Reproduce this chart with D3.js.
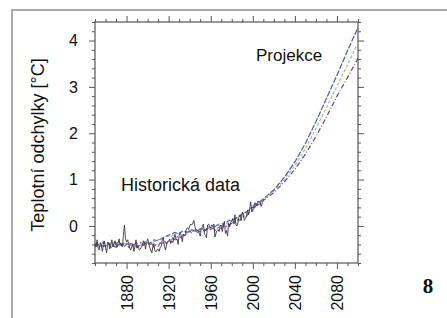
<!DOCTYPE html>
<html>
<head>
<meta charset="utf-8">
<script src="https://cdn.jsdelivr.net/npm/d3@7/dist/d3.min.js"></script>
<style>
  body { margin: 0; background: #fff; }
  text { font-family: "Liberation Sans", Arial, sans-serif; }
</style>
</head>
<body>
<div id="chart"></div>
<script>
// observed record, annual 1850-2010
var obsYears = d3.range(1850, 2011);
var obsValues = [
  -0.38,-0.45,-0.30,-0.48,-0.52,-0.36,-0.42,-0.55,-0.40,-0.33,
  -0.47,-0.58,-0.40,-0.35,-0.50,-0.42,-0.30,-0.44,-0.38,-0.32,
  -0.40,-0.46,-0.36,-0.28,-0.42,-0.38,-0.45,-0.20,0.02,-0.28,
  -0.35,-0.30,-0.38,-0.48,-0.52,-0.44,-0.40,-0.55,-0.42,-0.30,
  -0.48,-0.45,-0.52,-0.50,-0.46,-0.42,-0.32,-0.36,-0.50,-0.38,
  -0.28,-0.34,-0.46,-0.52,-0.58,-0.45,-0.38,-0.54,-0.56,-0.52,
  -0.50,-0.55,-0.46,-0.44,-0.30,-0.26,-0.44,-0.52,-0.40,-0.36,
  -0.34,-0.28,-0.38,-0.32,-0.36,-0.26,-0.18,-0.30,-0.28,-0.40,
  -0.20,-0.14,-0.22,-0.34,-0.18,-0.22,-0.16,-0.06,-0.04,-0.08,
  0.00,0.04,0.02,0.06,0.12,-0.02,-0.10,-0.08,-0.12,-0.14,
  -0.22,-0.06,-0.02,0.04,-0.18,-0.20,-0.26,0.02,0.04,-0.02,
  -0.04,0.02,0.00,0.04,-0.24,-0.16,-0.10,-0.08,-0.12,0.02,
  -0.02,-0.12,0.00,0.10,-0.16,-0.10,-0.22,0.06,-0.02,0.08,
  0.10,0.16,0.04,0.24,0.02,0.00,0.08,0.22,0.24,0.12,
  0.30,0.26,0.12,0.16,0.22,0.34,0.24,0.36,0.52,0.30,
  0.32,0.44,0.50,0.48,0.44,0.54,0.50,0.52,0.42,0.50,
  0.56];

// model runs over the historical period
var purpleYears = d3.range(1850, 2011, 2);
var modelPurple = [
  -0.42,-0.36,-0.46,-0.40,-0.34, -0.44,-0.38,-0.42,-0.48,-0.36,
  -0.40,-0.32,-0.38,-0.44,-0.36, -0.40,-0.46,-0.38,-0.42,-0.36,
  -0.44,-0.40,-0.34,-0.42,-0.38, -0.36,-0.42,-0.38,-0.46,-0.40,
  -0.44,-0.36,-0.40,-0.32,-0.38, -0.30,-0.34,-0.26,-0.30,-0.24,
  -0.22,-0.26,-0.18,-0.20,-0.14, -0.10,-0.16,-0.08,-0.12,-0.14,
  -0.10,-0.06,-0.12,-0.08,-0.04, -0.08,-0.02,-0.10,-0.06,-0.02,
  -0.06,0.00,-0.04,0.04,0.02, 0.06,0.10,0.08,0.14,0.12,
  0.18,0.22,0.20,0.28,0.32, 0.36,0.40,0.46,0.44,0.50,
  0.54];
var modelYears = d3.range(1850, 2007, 4);
var modelBlue = [-0.46,-0.40,-0.44,-0.36,-0.42,-0.46,-0.38,-0.44,-0.36,-0.40,
  -0.46,-0.40,-0.34,-0.38,-0.30,-0.32,-0.26,-0.22,-0.18,-0.14,
  -0.16,-0.10,-0.14,-0.08,-0.12,-0.06,-0.10,-0.02,-0.06,0.02,
  0.00,0.08,0.12,0.14,0.20,0.26,0.30,0.38,0.42,0.48];
var modelGreen = [-0.38,-0.42,-0.46,-0.40,-0.38,-0.44,-0.40,-0.36,-0.40,-0.44,
  -0.38,-0.42,-0.36,-0.40,-0.34,-0.30,-0.28,-0.22,-0.24,-0.18,
  -0.14,-0.12,-0.16,-0.10,-0.08,-0.12,-0.08,-0.06,-0.02,0.02,
  0.06,0.04,0.08,0.14,0.18,0.24,0.32,0.36,0.44,0.48];

// projections, every 10 years
var projYears = [2000,2010,2020,2030,2040,2050,2060,2070,2080,2090,2100];
var projBlue   = [0.42,0.58,0.78,1.05,1.38,1.78,2.25,2.75,3.25,3.78,4.28];
var projGreen  = [0.42,0.57,0.75,1.00,1.30,1.67,2.10,2.55,3.02,3.48,3.95];
var projPurple = [0.42,0.55,0.72,0.95,1.22,1.55,1.93,2.35,2.80,3.20,3.62];

var xMajor = [1880,1920,1960,2000,2040,2080];
var yMajor = [0,1,2,3,4];

var width = 447, height = 318;
var svg = d3.select("#chart").append("svg")
  .attr("width", width).attr("height", height);

// outer frame of the figure
svg.append("path")
  .attr("d", "M12,318V10H447")
  .attr("fill", "none").attr("stroke", "#a8a8a8").attr("stroke-width", 2);

var x = d3.scaleLinear().domain([1850, 2100]).range([95, 358]);
var y = d3.scaleLinear().domain([-0.8, 4.4]).range([263, 22]);

var xMinor = d3.range(1850, 2101, 10).filter(function(d){ return xMajor.indexOf(d) < 0; });
var yMinor = d3.range(-0.8, 4.41, 0.2).map(function(d){ return Math.round(d*10)/10; })
  .filter(function(d){ return yMajor.indexOf(d) < 0; });

function axisStyle(g) {
  g.select(".domain").remove();
  g.selectAll("line").attr("stroke", "#555").attr("stroke-width", 1);
  g.selectAll("text").attr("fill", "#111").style("font-size", "16px");
}

// minor ticks on all four sides
svg.append("g").attr("transform", "translate(0,263)")
  .call(d3.axisBottom(x).tickValues(xMinor).tickSize(3).tickFormat("")).call(axisStyle);
svg.append("g").attr("transform", "translate(0,22)")
  .call(d3.axisTop(x).tickValues(xMinor).tickSize(3).tickFormat("")).call(axisStyle);
svg.append("g").attr("transform", "translate(95,0)")
  .call(d3.axisLeft(y).tickValues(yMinor).tickSize(3).tickFormat("")).call(axisStyle);
svg.append("g").attr("transform", "translate(358,0)")
  .call(d3.axisRight(y).tickValues(yMinor).tickSize(3).tickFormat("")).call(axisStyle);

// major ticks
var xb = svg.append("g").attr("transform", "translate(0,263)")
  .call(d3.axisBottom(x).tickValues(xMajor).tickSize(6).tickFormat(d3.format("d")))
  .call(axisStyle);
xb.selectAll("text")
  .attr("transform", "rotate(-90)")
  .attr("text-anchor", "end")
  .attr("x", -12).attr("y", 0).attr("dy", "0.36em");
svg.append("g").attr("transform", "translate(0,22)")
  .call(d3.axisTop(x).tickValues(xMajor).tickSize(6).tickFormat("")).call(axisStyle);
svg.append("g").attr("transform", "translate(95,0)")
  .call(d3.axisLeft(y).tickValues(yMajor).tickSize(6).tickPadding(11).tickFormat(d3.format("d")))
  .call(axisStyle);
svg.append("g").attr("transform", "translate(358,0)")
  .call(d3.axisRight(y).tickValues(yMajor).tickSize(6).tickFormat("")).call(axisStyle);

// plot box
svg.append("rect")
  .attr("x", 95).attr("y", 22).attr("width", 263).attr("height", 241)
  .attr("fill", "none").attr("stroke", "#555").attr("stroke-width", 1.2);

var line = d3.line()
  .x(function(d){ return x(d[0]); })
  .y(function(d){ return y(d[1]); });

function draw(years, vals, color, dash, w) {
  svg.append("path")
    .datum(years.map(function(yr, i){ return [yr, vals[i]]; }))
    .attr("d", line)
    .attr("fill", "none")
    .attr("stroke", color)
    .attr("stroke-width", w)
    .attr("stroke-dasharray", dash);
}

draw(modelYears, modelGreen, "#7fb8a0", "3,2", 1.1);
draw(modelYears, modelBlue, "#4f5fa8", "5,2", 1.1);
draw(purpleYears, modelPurple, "#8a3f9c", "6,2,2,2", 1.1);
draw(obsYears, obsValues, "#3a3a3a", null, 0.9);

draw(projYears, projPurple, "#7a3a9a", "5,2,1,2", 1.2);
draw(projYears, projGreen, "#9cc46a", "3,2", 1.2);
draw(projYears, projBlue, "#4a5aa8", "6,1.5", 1.2);

// axis title and annotations
svg.append("text")
  .attr("transform", "translate(44,145) rotate(-90)")
  .attr("text-anchor", "middle")
  .style("font-size", "18px").attr("fill", "#111")
  .text("Teplotní odchylky [°C]");

svg.append("text")
  .attr("x", 121).attr("y", 191)
  .style("font-size", "18px").attr("fill", "#111")
  .text("Historická data");

svg.append("text")
  .attr("x", 256).attr("y", 61)
  .style("font-size", "17px").attr("fill", "#111")
  .text("Projekce");

svg.append("text")
  .attr("x", 428).attr("y", 293)
  .attr("text-anchor", "middle")
  .style("font-family", "'Liberation Serif', 'DejaVu Serif', serif")
  .style("font-size", "21px").style("font-weight", "bold").attr("fill", "#111")
  .text("8");
</script>
</body>
</html>
